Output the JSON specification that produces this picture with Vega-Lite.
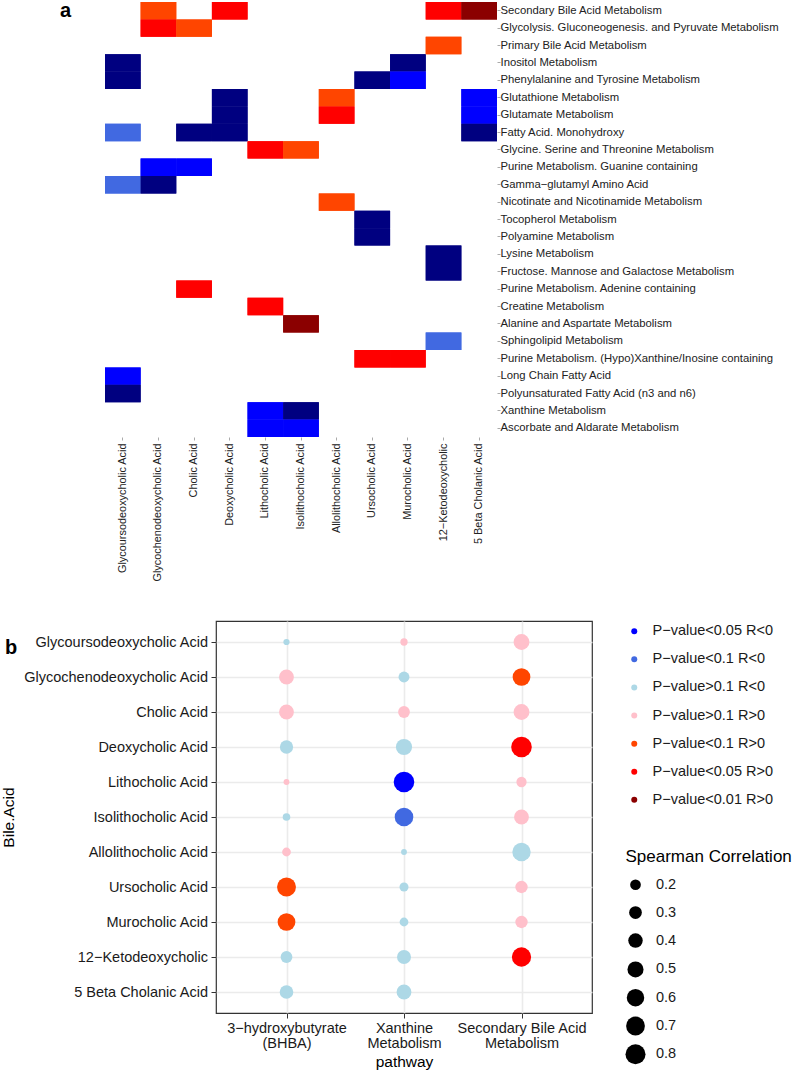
{
  "$schema": "https://vega.github.io/schema/vega-lite/v6.json",
  "padding": {"left": 0, "top": 0, "right": 0, "bottom": 0},
  "background": "white",
  "config": {
    "font": "Liberation Sans",
    "view": {"stroke": null},
    "legend": {"symbolBaseFillColor": "black", "symbolBaseStrokeColor": "black", "offset": 3}
  },
  "datasets": {
    "heat": [
      {"bile": "Glycochenodeoxycholic Acid", "pathway": "Secondary Bile Acid Metabolism", "cat": "P−value<0.1 R>0"},
      {"bile": "Deoxycholic Acid", "pathway": "Secondary Bile Acid Metabolism", "cat": "P−value<0.05 R>0"},
      {"bile": "12−Ketodeoxycholic", "pathway": "Secondary Bile Acid Metabolism", "cat": "P−value<0.05 R>0"},
      {"bile": "5 Beta Cholanic Acid", "pathway": "Secondary Bile Acid Metabolism", "cat": "P−value<0.01 R>0"},
      {"bile": "Glycochenodeoxycholic Acid", "pathway": "Glycolysis. Gluconeogenesis. and Pyruvate Metabolism", "cat": "P−value<0.05 R>0"},
      {"bile": "Cholic Acid", "pathway": "Glycolysis. Gluconeogenesis. and Pyruvate Metabolism", "cat": "P−value<0.1 R>0"},
      {"bile": "12−Ketodeoxycholic", "pathway": "Primary Bile Acid Metabolism", "cat": "P−value<0.1 R>0"},
      {"bile": "Glycoursodeoxycholic Acid", "pathway": "Inositol Metabolism", "cat": "P−value<0.01 R<0"},
      {"bile": "Murocholic Acid", "pathway": "Inositol Metabolism", "cat": "P−value<0.01 R<0"},
      {"bile": "Glycoursodeoxycholic Acid", "pathway": "Phenylalanine and Tyrosine Metabolism", "cat": "P−value<0.01 R<0"},
      {"bile": "Ursocholic Acid", "pathway": "Phenylalanine and Tyrosine Metabolism", "cat": "P−value<0.01 R<0"},
      {"bile": "Murocholic Acid", "pathway": "Phenylalanine and Tyrosine Metabolism", "cat": "P−value<0.05 R<0"},
      {"bile": "Deoxycholic Acid", "pathway": "Glutathione Metabolism", "cat": "P−value<0.01 R<0"},
      {"bile": "Allolithocholic Acid", "pathway": "Glutathione Metabolism", "cat": "P−value<0.1 R>0"},
      {"bile": "5 Beta Cholanic Acid", "pathway": "Glutathione Metabolism", "cat": "P−value<0.05 R<0"},
      {"bile": "Deoxycholic Acid", "pathway": "Glutamate Metabolism", "cat": "P−value<0.01 R<0"},
      {"bile": "Allolithocholic Acid", "pathway": "Glutamate Metabolism", "cat": "P−value<0.05 R>0"},
      {"bile": "5 Beta Cholanic Acid", "pathway": "Glutamate Metabolism", "cat": "P−value<0.05 R<0"},
      {"bile": "Glycoursodeoxycholic Acid", "pathway": "Fatty Acid. Monohydroxy", "cat": "P−value<0.1 R<0"},
      {"bile": "Cholic Acid", "pathway": "Fatty Acid. Monohydroxy", "cat": "P−value<0.01 R<0"},
      {"bile": "Deoxycholic Acid", "pathway": "Fatty Acid. Monohydroxy", "cat": "P−value<0.01 R<0"},
      {"bile": "5 Beta Cholanic Acid", "pathway": "Fatty Acid. Monohydroxy", "cat": "P−value<0.01 R<0"},
      {"bile": "Lithocholic Acid", "pathway": "Glycine. Serine and Threonine Metabolism", "cat": "P−value<0.05 R>0"},
      {"bile": "Isolithocholic Acid", "pathway": "Glycine. Serine and Threonine Metabolism", "cat": "P−value<0.1 R>0"},
      {"bile": "Glycochenodeoxycholic Acid", "pathway": "Purine Metabolism. Guanine containing", "cat": "P−value<0.05 R<0"},
      {"bile": "Cholic Acid", "pathway": "Purine Metabolism. Guanine containing", "cat": "P−value<0.05 R<0"},
      {"bile": "Glycoursodeoxycholic Acid", "pathway": "Gamma−glutamyl Amino Acid", "cat": "P−value<0.1 R<0"},
      {"bile": "Glycochenodeoxycholic Acid", "pathway": "Gamma−glutamyl Amino Acid", "cat": "P−value<0.01 R<0"},
      {"bile": "Allolithocholic Acid", "pathway": "Nicotinate and Nicotinamide Metabolism", "cat": "P−value<0.1 R>0"},
      {"bile": "Ursocholic Acid", "pathway": "Tocopherol Metabolism", "cat": "P−value<0.01 R<0"},
      {"bile": "Ursocholic Acid", "pathway": "Polyamine Metabolism", "cat": "P−value<0.01 R<0"},
      {"bile": "12−Ketodeoxycholic", "pathway": "Lysine Metabolism", "cat": "P−value<0.01 R<0"},
      {"bile": "12−Ketodeoxycholic", "pathway": "Fructose. Mannose and Galactose Metabolism", "cat": "P−value<0.01 R<0"},
      {"bile": "Cholic Acid", "pathway": "Purine Metabolism. Adenine containing", "cat": "P−value<0.05 R>0"},
      {"bile": "Lithocholic Acid", "pathway": "Creatine Metabolism", "cat": "P−value<0.05 R>0"},
      {"bile": "Isolithocholic Acid", "pathway": "Alanine and Aspartate Metabolism", "cat": "P−value<0.01 R>0"},
      {"bile": "12−Ketodeoxycholic", "pathway": "Sphingolipid Metabolism", "cat": "P−value<0.1 R<0"},
      {"bile": "Ursocholic Acid", "pathway": "Purine Metabolism. (Hypo)Xanthine/Inosine containing", "cat": "P−value<0.05 R>0"},
      {"bile": "Murocholic Acid", "pathway": "Purine Metabolism. (Hypo)Xanthine/Inosine containing", "cat": "P−value<0.05 R>0"},
      {"bile": "Glycoursodeoxycholic Acid", "pathway": "Long Chain Fatty Acid", "cat": "P−value<0.05 R<0"},
      {"bile": "Glycoursodeoxycholic Acid", "pathway": "Polyunsaturated Fatty Acid (n3 and n6)", "cat": "P−value<0.01 R<0"},
      {"bile": "Lithocholic Acid", "pathway": "Xanthine Metabolism", "cat": "P−value<0.05 R<0"},
      {"bile": "Isolithocholic Acid", "pathway": "Xanthine Metabolism", "cat": "P−value<0.01 R<0"},
      {"bile": "Lithocholic Acid", "pathway": "Ascorbate and Aldarate Metabolism", "cat": "P−value<0.05 R<0"},
      {"bile": "Isolithocholic Acid", "pathway": "Ascorbate and Aldarate Metabolism", "cat": "P−value<0.05 R<0"}
    ],
    "dots": [
      {"bile": "Glycoursodeoxycholic Acid", "pathway": "3−hydroxybutyrate (BHBA)", "cat": "P−value>0.1 R<0", "r": 0.04},
      {"bile": "Glycochenodeoxycholic Acid", "pathway": "3−hydroxybutyrate (BHBA)", "cat": "P−value>0.1 R>0", "r": 0.42},
      {"bile": "Cholic Acid", "pathway": "3−hydroxybutyrate (BHBA)", "cat": "P−value>0.1 R>0", "r": 0.42},
      {"bile": "Deoxycholic Acid", "pathway": "3−hydroxybutyrate (BHBA)", "cat": "P−value>0.1 R<0", "r": 0.33},
      {"bile": "Lithocholic Acid", "pathway": "3−hydroxybutyrate (BHBA)", "cat": "P−value>0.1 R>0", "r": 0.03},
      {"bile": "Isolithocholic Acid", "pathway": "3−hydroxybutyrate (BHBA)", "cat": "P−value>0.1 R<0", "r": 0.08},
      {"bile": "Allolithocholic Acid", "pathway": "3−hydroxybutyrate (BHBA)", "cat": "P−value>0.1 R>0", "r": 0.12},
      {"bile": "Ursocholic Acid", "pathway": "3−hydroxybutyrate (BHBA)", "cat": "P−value<0.1 R>0", "r": 0.71},
      {"bile": "Murocholic Acid", "pathway": "3−hydroxybutyrate (BHBA)", "cat": "P−value<0.1 R>0", "r": 0.62},
      {"bile": "12−Ketodeoxycholic", "pathway": "3−hydroxybutyrate (BHBA)", "cat": "P−value>0.1 R<0", "r": 0.25},
      {"bile": "5 Beta Cholanic Acid", "pathway": "3−hydroxybutyrate (BHBA)", "cat": "P−value>0.1 R<0", "r": 0.35},
      {"bile": "Glycoursodeoxycholic Acid", "pathway": "Xanthine Metabolism", "cat": "P−value>0.1 R>0", "r": 0.07},
      {"bile": "Glycochenodeoxycholic Acid", "pathway": "Xanthine Metabolism", "cat": "P−value>0.1 R<0", "r": 0.21},
      {"bile": "Cholic Acid", "pathway": "Xanthine Metabolism", "cat": "P−value>0.1 R>0", "r": 0.25},
      {"bile": "Deoxycholic Acid", "pathway": "Xanthine Metabolism", "cat": "P−value>0.1 R<0", "r": 0.51},
      {"bile": "Lithocholic Acid", "pathway": "Xanthine Metabolism", "cat": "P−value<0.05 R<0", "r": 0.85},
      {"bile": "Isolithocholic Acid", "pathway": "Xanthine Metabolism", "cat": "P−value<0.1 R<0", "r": 0.69},
      {"bile": "Allolithocholic Acid", "pathway": "Xanthine Metabolism", "cat": "P−value>0.1 R<0", "r": 0.03},
      {"bile": "Ursocholic Acid", "pathway": "Xanthine Metabolism", "cat": "P−value>0.1 R<0", "r": 0.13},
      {"bile": "Murocholic Acid", "pathway": "Xanthine Metabolism", "cat": "P−value>0.1 R<0", "r": 0.12},
      {"bile": "12−Ketodeoxycholic", "pathway": "Xanthine Metabolism", "cat": "P−value>0.1 R<0", "r": 0.37},
      {"bile": "5 Beta Cholanic Acid", "pathway": "Xanthine Metabolism", "cat": "P−value>0.1 R<0", "r": 0.42},
      {"bile": "Glycoursodeoxycholic Acid", "pathway": "Secondary Bile Acid Metabolism", "cat": "P−value>0.1 R>0", "r": 0.49},
      {"bile": "Glycochenodeoxycholic Acid", "pathway": "Secondary Bile Acid Metabolism", "cat": "P−value<0.1 R>0", "r": 0.62},
      {"bile": "Cholic Acid", "pathway": "Secondary Bile Acid Metabolism", "cat": "P−value>0.1 R>0", "r": 0.49},
      {"bile": "Deoxycholic Acid", "pathway": "Secondary Bile Acid Metabolism", "cat": "P−value<0.05 R>0", "r": 0.85},
      {"bile": "Lithocholic Acid", "pathway": "Secondary Bile Acid Metabolism", "cat": "P−value>0.1 R>0", "r": 0.18},
      {"bile": "Isolithocholic Acid", "pathway": "Secondary Bile Acid Metabolism", "cat": "P−value>0.1 R>0", "r": 0.42},
      {"bile": "Allolithocholic Acid", "pathway": "Secondary Bile Acid Metabolism", "cat": "P−value>0.1 R<0", "r": 0.67},
      {"bile": "Ursocholic Acid", "pathway": "Secondary Bile Acid Metabolism", "cat": "P−value>0.1 R>0", "r": 0.28},
      {"bile": "Murocholic Acid", "pathway": "Secondary Bile Acid Metabolism", "cat": "P−value>0.1 R>0", "r": 0.28},
      {"bile": "12−Ketodeoxycholic", "pathway": "Secondary Bile Acid Metabolism", "cat": "P−value<0.05 R>0", "r": 0.74}
    ]
  },
  "spacing": 38,
  "resolve": {"scale": {"color": "independent", "x": "independent", "y": "independent", "size": "independent"}},
  "vconcat": [
    {
      "spacing": -217,
      "align": "none",
      "hconcat": [
        {
          "width": 1,
          "height": 1,
          "data": {"values": []},
          "mark": {"type": "point"}
        },
        {
          "width": 392,
          "height": 435,
          "data": {"name": "heat"},
          "encoding": {
            "x": {"field": "bile", "type": "nominal",
              "scale": {"domain": ["Glycoursodeoxycholic Acid", "Glycochenodeoxycholic Acid", "Cholic Acid", "Deoxycholic Acid", "Lithocholic Acid", "Isolithocholic Acid", "Allolithocholic Acid", "Ursocholic Acid", "Murocholic Acid", "12−Ketodeoxycholic", "5 Beta Cholanic Acid"], "paddingInner": 0, "paddingOuter": 0},
              "axis": {"orient": "bottom", "title": null, "labelAngle": 270, "labelAlign": "right", "labelBaseline": "middle", "domain": false, "tickSize": 3, "tickColor": "#aaaaaa", "labelPadding": 3, "labelFontSize": 10.9, "labelColor": "#222222", "labelLimit": 300}},
            "color": {"field": "cat", "type": "nominal",
              "scale": {"domain": ["P−value<0.01 R<0", "P−value<0.05 R<0", "P−value<0.1 R<0", "P−value<0.1 R>0", "P−value<0.05 R>0", "P−value<0.01 R>0"], "range": ["#000080", "#0000FF", "#4169E1", "#FF4500", "#FF0000", "#8B0000"]},
              "legend": null}
          },
          "layer": [
            {
              "mark": {"type": "rect"},
              "encoding": {
                "y": {"field": "pathway", "type": "nominal",
                  "scale": {"domain": ["Secondary Bile Acid Metabolism", "Glycolysis. Gluconeogenesis. and Pyruvate Metabolism", "Primary Bile Acid Metabolism", "Inositol Metabolism", "Phenylalanine and Tyrosine Metabolism", "Glutathione Metabolism", "Glutamate Metabolism", "Fatty Acid. Monohydroxy", "Glycine. Serine and Threonine Metabolism", "Purine Metabolism. Guanine containing", "Gamma−glutamyl Amino Acid", "Nicotinate and Nicotinamide Metabolism", "Tocopherol Metabolism", "Polyamine Metabolism", "Lysine Metabolism", "Fructose. Mannose and Galactose Metabolism", "Purine Metabolism. Adenine containing", "Creatine Metabolism", "Alanine and Aspartate Metabolism", "Sphingolipid Metabolism", "Purine Metabolism. (Hypo)Xanthine/Inosine containing", "Long Chain Fatty Acid", "Polyunsaturated Fatty Acid (n3 and n6)", "Xanthine Metabolism", "Ascorbate and Aldarate Metabolism"], "paddingInner": 0, "paddingOuter": 0},
                  "axis": {"orient": "right", "title": null, "domain": false, "tickSize": 3, "tickColor": "#aaaaaa", "labelPadding": 0, "labelFontSize": 11.3, "labelColor": "#222222", "labelLimit": 400}}
              }
            },
            {
              "mark": {"type": "rect"},
              "encoding": {
                "y": {"field": "pathway", "type": "nominal",
                  "axis": {"orient": "left", "labels": false, "ticks": false, "domain": false, "grid": false, "title": "a", "titleAngle": 0, "titleFontSize": 20, "titleFontWeight": "bold", "titleAlign": "center", "titleBaseline": "alphabetic", "titleX": -40, "titleY": 14, "minExtent": 105, "maxExtent": 105}}
              }
            }
          ],
          "resolve": {"axis": {"y": "independent"}}
        }
      ]
    },
    {
      "width": 376,
      "height": 392,
      "view": {"stroke": "#333333", "strokeWidth": 1.2},
      "title": {"text": "b", "anchor": "start", "frame": "bounds", "fontSize": 20, "fontWeight": "bold", "offset": -37, "dx": 3},
      "data": {"name": "dots"},
      "mark": {"type": "circle", "opacity": 1},
      "encoding": {
        "x": {"field": "pathway", "type": "nominal",
          "scale": {"type": "point", "padding": 0.6, "domain": ["3−hydroxybutyrate (BHBA)", "Xanthine Metabolism", "Secondary Bile Acid Metabolism"]},
          "axis": {"title": "pathway", "labelAngle": 0, "labelExpr": "datum.value == '3−hydroxybutyrate (BHBA)' ? ['3−hydroxybutyrate', '(BHBA)'] : datum.value == 'Xanthine Metabolism' ? ['Xanthine', 'Metabolism'] : ['Secondary Bile Acid', 'Metabolism']", "labelLineHeight": 15, "labelFontSize": 14.5, "labelColor": "#1a1a1a", "labelPadding": 3, "tickSize": 5, "tickColor": "#333333", "domain": false, "grid": true, "gridColor": "#EBEBEB", "gridWidth": 1.6, "titleFontSize": 15.5, "titleFontWeight": "normal", "titleColor": "#000000", "titlePadding": 5}},
        "y": {"field": "bile", "type": "nominal",
          "scale": {"type": "point", "padding": 0.6, "domain": ["Glycoursodeoxycholic Acid", "Glycochenodeoxycholic Acid", "Cholic Acid", "Deoxycholic Acid", "Lithocholic Acid", "Isolithocholic Acid", "Allolithocholic Acid", "Ursocholic Acid", "Murocholic Acid", "12−Ketodeoxycholic", "5 Beta Cholanic Acid"]},
          "axis": {"title": "Bile.Acid", "labelFontSize": 14.5, "labelColor": "#1a1a1a", "labelPadding": 3.5, "tickSize": 5, "tickColor": "#333333", "domain": false, "grid": true, "gridColor": "#EBEBEB", "gridWidth": 1.6, "titleFontSize": 15.5, "titleFontWeight": "normal", "titleColor": "#000000", "titlePadding": 6, "labelLimit": 300}},
        "color": {"field": "cat", "type": "nominal",
          "scale": {"domain": ["P−value<0.05 R<0", "P−value<0.1 R<0", "P−value>0.1 R<0", "P−value>0.1 R>0", "P−value<0.1 R>0", "P−value<0.05 R>0", "P−value<0.01 R>0"], "range": ["#0000FF", "#4169E1", "#ADD8E6", "#FFC0CB", "#FF4500", "#FF0000", "#8B0000"]},
          "legend": {"title": null, "symbolType": "circle", "symbolSize": 36, "labelFontSize": 14.5, "labelColor": "#1a1a1a", "rowPadding": 13.1, "padding": 3, "symbolOffset": 29, "labelOffset": 11, "orient": "right"}},
        "size": {"field": "r", "type": "quantitative",
          "scale": {"domain": [0, 0.8], "range": [20, 400]},
          "legend": {"title": "Spearman Correlation", "values": [0.2, 0.3, 0.4, 0.5, 0.6, 0.7, 0.8], "symbolType": "circle", "symbolFillColor": "black", "symbolStrokeColor": "black", "symbolStrokeWidth": 0, "titleFontSize": 17, "titleFontWeight": "normal", "titleColor": "#000000", "titlePadding": 12, "labelFontSize": 14.5, "labelColor": "#1a1a1a", "rowPadding": 6.8, "gridAlign": "all", "padding": 30.5, "labelOffset": 10.5, "orient": "right"}}
      }
    }
  ]
}
